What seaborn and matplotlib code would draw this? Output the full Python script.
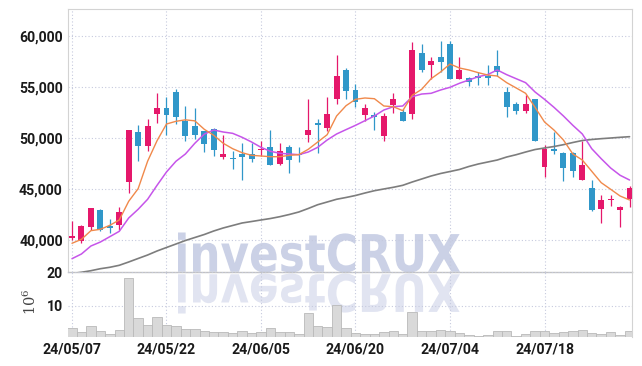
import numpy as np
import pandas as pd
import matplotlib
matplotlib.use("Agg")
import matplotlib.pyplot as plt
import seaborn as sns
from matplotlib.textpath import TextPath
from matplotlib.patches import PathPatch
from matplotlib.transforms import Affine2D, IdentityTransform
from matplotlib.font_manager import FontProperties

# ---------------- data ----------------
dates = [d.strftime("%y/%m/%d") for d in pd.bdate_range("2024-05-07", "2024-07-31")
         if d.strftime("%m-%d") not in ("05-15", "06-06")]

opens = [40150, 39950, 41250, 42900, 41400, 41500, 45650, 50600, 49250, 52400,
         52950, 54550, 51700, 51200, 50700, 50900, 48150, 48050, 48400, 48450,
         48800, 49150, 47450, 49150, 48400, 50350, 51450, 51000, 53800, 56650,
         54750, 52250, 52300, 50200, 53300, 52550, 52350, 58350, 57200, 57950,
         59250, 55850, 55950, 56150, 56150, 57100, 54550, 53400, 52700, 53800,
         47150, 48900, 48550, 48550, 45900, 45100, 43000, 43950, 42900, 44050]
highs = [41900, 41450, 43150, 43000, 42100, 43250, 50800, 51250, 51900, 54450,
         54000, 54850, 53200, 53000, 50750, 50950, 50350, 48750, 49550, 49500,
         49750, 50850, 49550, 49300, 49150, 53850, 51900, 54050, 58150, 56900,
         55300, 53350, 52550, 52500, 54450, 52850, 59400, 59250, 57950, 59550,
         59500, 57950, 56000, 56450, 57150, 58700, 55000, 53600, 54250, 53800,
         49350, 50650, 48650, 48650, 49700, 45900, 44450, 44450, 43300, 45350]
lows = [40000, 39700, 41000, 40900, 40700, 41000, 44600, 47750, 48700, 51450,
        50350, 51400, 49700, 49950, 48650, 48250, 48000, 47000, 45900, 47700,
        48200, 47400, 47400, 46550, 47650, 49600, 48500, 50750, 53350, 53850,
        53100, 51700, 50800, 49700, 52450, 51700, 51900, 56450, 55800, 56450,
        55800, 55800, 55100, 55200, 55250, 56150, 52050, 52350, 52450, 49700,
        46150, 48450, 45750, 46150, 45900, 42800, 41700, 43350, 41250, 43250]
closes = [40400, 41350, 43150, 41000, 41200, 42750, 50800, 49250, 51200, 52950,
          52250, 52050, 50200, 50350, 49450, 48850, 48450, 47950, 48150, 48000,
          48950, 47400, 48750, 47850, 48300, 50800, 51300, 52350, 56100, 54600,
          53550, 52950, 52050, 52150, 53800, 51700, 58650, 56650, 57550, 57500,
          55850, 56700, 55500, 55950, 55950, 56450, 53050, 52700, 53400, 49750,
          48950, 48750, 47050, 46800, 47400, 42900, 43950, 44050, 43250, 45100]

ma_short = [39675, 40065, 40915, 41050, 41440, 41965, 43800, 45040, 47730, 49750,
            51390, 51655, 51800, 51700, 50870, 50280, 49500, 48965, 48575, 48315,
            48250, 48180, 48180, 48315, 48380, 48905, 49620, 50340, 52180, 53190,
            53815, 53945, 53875, 53160, 53090, 52700, 54205, 54795, 55840, 56500,
            57285, 56890, 56695, 56430, 56200, 56105, 55450, 54930, 54405, 53030,
            51590, 50800, 49820, 48445, 47855, 46745, 45630, 44980, 44320, 43930]
ma_mid = [38165, 38625, 39410, 39800, 40325, 40850, 42160, 43015, 43995, 45370,
          46680, 47730, 48445, 49500, 50400, 50800, 50605, 50475, 50085, 49625,
          49100, 48710, 48515, 48445, 48380, 48640, 49100, 49820, 50410, 50840,
          51260, 51715, 52180, 52765, 53090, 53160, 54070, 54335, 54405, 54730,
          54995, 55390, 55710, 56040, 56250, 56695, 56235, 55840, 55450, 54535,
          53815, 53030, 52180, 51260, 50410, 48965, 47985, 47070, 46355, 45890]
ma_long = [36710, 36830, 36985, 37180, 37320, 37515, 37840, 38185, 38525, 38920,
           39265, 39605, 39950, 40245, 40540, 40885, 41180, 41425, 41670, 41815,
           41965, 42110, 42290, 42505, 42750, 43095, 43465, 43730, 44000, 44175,
           44370, 44615, 44840, 45010, 45175, 45370, 45695, 45990, 46285, 46530,
           46725, 46925, 47220, 47465, 47660, 47855, 48150, 48375, 48640, 48885,
           49035, 49180, 49360, 49575, 49770, 49870, 49950, 50015, 50085, 50145]

volume = [3.2, 2.0, 3.8, 2.4, 1.4, 2.6, 18.2, 6.2, 4.1, 6.5,
          4.1, 3.8, 3.0, 2.9, 2.4, 2.1, 2.1, 1.8, 2.4, 1.8,
          2.1, 3.2, 2.1, 2.1, 1.5, 7.7, 3.9, 3.6, 10.1, 3.2,
          1.7, 1.4, 1.4, 2.0, 2.3, 1.4, 8.0, 2.4, 2.4, 2.7,
          2.3, 1.7, 1.2, 1.0, 1.1, 2.3, 2.3, 1.0, 1.4, 2.3,
          2.3, 1.7, 2.0, 2.3, 2.6, 1.7, 1.4, 2.0, 1.3, 2.3]

price_ticks = [40000, 45000, 50000, 55000, 60000]
volume_ticks = [10, 20]
tick_idx = [0, 10, 20, 30, 40, 50]

# ---------------- style ----------------
UP = "#e5186b"
DOWN = "#3097c9"
GRID = "#c6cade"
TXT = "#1a1a1a"

sns.set_theme(style="white")
plt.rcParams["font.family"] = ["Roboto", "DejaVu Sans"]

W, H = 642, 366
fig = plt.figure(figsize=(W / 100, H / 100), dpi=100, facecolor="white")


def rect(x0, y0, x1, y1):
    return [x0 / W, 1 - y1 / H, (x1 - x0) / W, (y1 - y0) / H]


axp = fig.add_axes(rect(68.3, 9.3, 632.3, 272.3))
axv = fig.add_axes(rect(68.3, 272.3, 632.3, 337.3))
for ax in (axp, axv):
    ax.set_facecolor("none")

idx = np.arange(len(dates))
df = pd.DataFrame({"i": idx, "open": opens, "high": highs, "low": lows, "close": closes,
                   "ma_short": ma_short, "ma_mid": ma_mid, "ma_long": ma_long,
                   "volume": volume})
up = df["close"] >= df["open"]
cols = np.where(up, UP, DOWN)

# wicks and bodies
axp.vlines(df["i"], df["low"], df["high"], colors=cols, lw=0.9, zorder=3)
body_bottom = np.minimum(df["open"], df["close"])
body_h = np.maximum(np.abs(df["close"] - df["open"]), 110)
axp.bar(df["i"], body_h, bottom=body_bottom, width=0.63, color=cols, lw=0, zorder=3)

# moving averages
sns.lineplot(data=df, x="i", y="ma_long", ax=axp, color="#7d7d7d", lw=1.2, zorder=4, legend=False)
sns.lineplot(data=df, x="i", y="ma_mid", ax=axp, color="#c655ea", lw=1.1, zorder=4, legend=False)
sns.lineplot(data=df, x="i", y="ma_short", ax=axp, color="#f0894b", lw=1.0, zorder=5, legend=False)

# volume
sns.barplot(data=df, x="i", y="volume", ax=axv, native_scale=True, width=1.0,
            color="#d9d9d9", saturation=1, edgecolor="#b9b9b9", linewidth=0.6, zorder=3)

# limits
for ax in (axp, axv):
    ax.set_xlim(-0.39, 59.29)
axp.set_ylim(36828, 62655)
axv.set_ylim(0.5, 20)

# ticks
tick_font = dict(fontsize=10.2, fontweight="bold", color=TXT)
axp.set_yticks(price_ticks)
axp.set_yticklabels([f"{v:,}" for v in price_ticks], **tick_font)
axp.set_xticks(tick_idx)
axp.tick_params(axis="x", labelbottom=False, length=0)
axp.tick_params(axis="y", length=0, pad=4)

axv.set_yticks(volume_ticks)
axv.set_yticklabels([str(v) for v in volume_ticks], **tick_font)
axv.set_xticks(tick_idx)
axv.set_xticklabels(["24/" + dates[i][3:] for i in tick_idx], **tick_font)
axv.tick_params(axis="both", length=0, pad=4)
axv.set_xlabel("")
axv.set_ylabel("")
axp.set_xlabel("")
axp.set_ylabel("")

# grids
for ax in (axp, axv):
    ax.grid(True, color=GRID, linestyle=(0, (1, 2)), lw=0.8, zorder=1)
    ax.set_axisbelow(True)

# spines
for s in ("top", "right", "left"):
    axp.spines[s].set_color("#d3d3d3")
    axp.spines[s].set_linewidth(0.8)
axp.spines["bottom"].set_color("#c2c2c2")
axp.spines["bottom"].set_linewidth(1.0)
axv.spines["right"].set_color("#d3d3d3")
axv.spines["right"].set_linewidth(0.8)
for s in ("top", "left", "bottom"):
    axv.spines[s].set_visible(False)

# 10^6 label
fig.text(30 / W, 1 - 302 / H, r"$10^6$", rotation=90, ha="center", va="center",
         fontsize=10.5, color="#444444", math_fontfamily="dejavuserif")

# watermark with reflection
fp = FontProperties(family="DejaVu Sans", weight="bold")
tp = TextPath((0, 0), "investCRUX", size=100, prop=fp)
ext = tp.get_extents()
x0, x1 = 178, 460
base = H - 272.5
sx = (x1 - x0) / ext.width
sy = 40 / ext.height
T_main = Affine2D().translate(-ext.x0, -ext.y0).scale(sx, sy).translate(x0, base)
T_refl = Affine2D().translate(-ext.x0, -ext.y0).scale(sx, -sy).translate(x0, base - 1)
fig.add_artist(PathPatch(T_main.transform_path(tp), transform=IdentityTransform(),
                         facecolor="#cbd1e6", lw=0, zorder=-1))
fig.add_artist(PathPatch(T_refl.transform_path(tp), transform=IdentityTransform(),
                         facecolor="#e1e4f1", lw=0, zorder=-1))

fig.savefig("out.png", dpi=100, facecolor="white")
